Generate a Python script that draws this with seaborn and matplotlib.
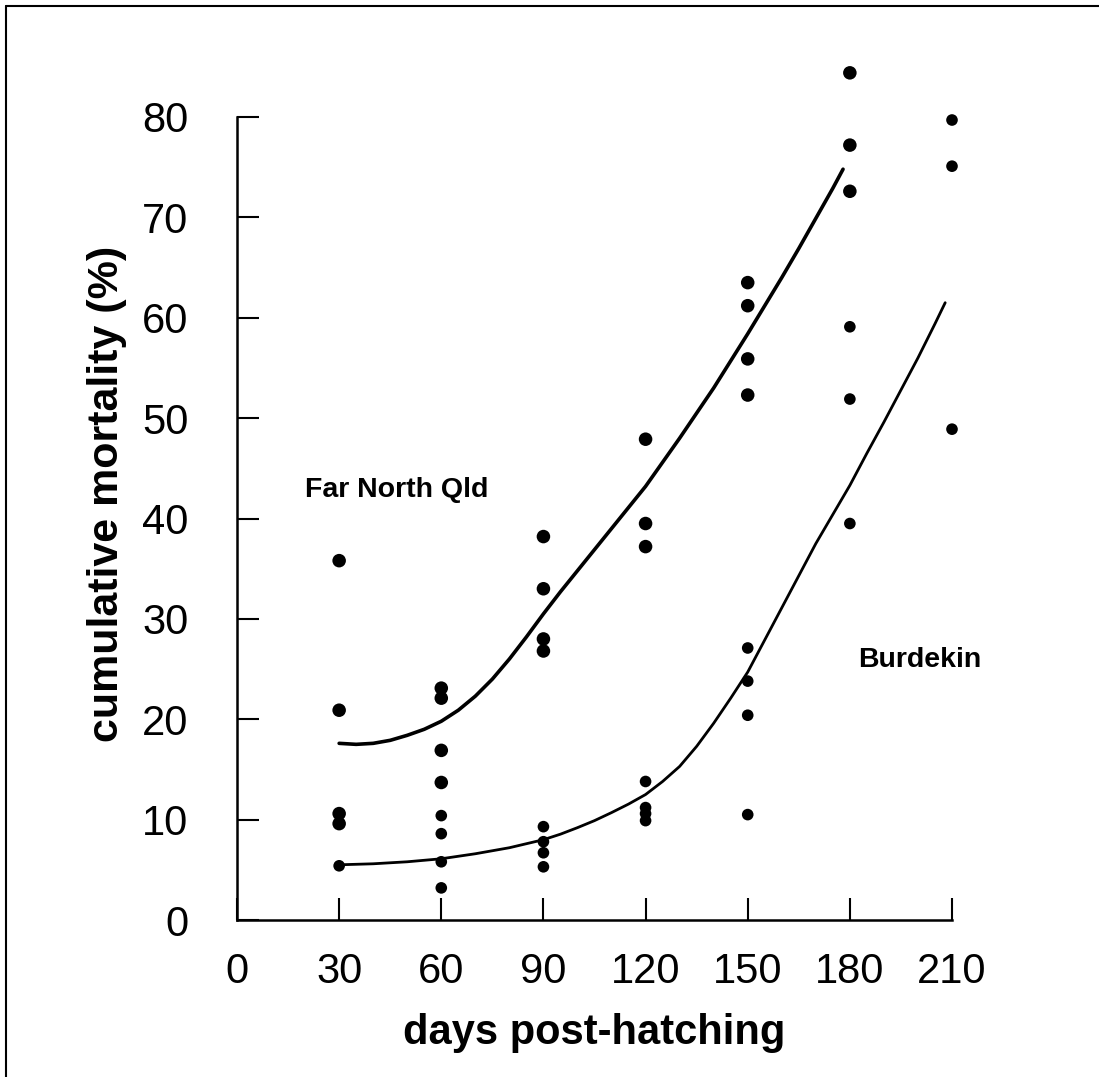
import matplotlib
matplotlib.use("Agg")
import matplotlib.pyplot as plt
import seaborn as sns
import pandas as pd
from matplotlib import font_manager
from matplotlib.lines import Line2D

# ---------------- data ----------------
fnq_days = [30, 30, 30, 30, 60, 60, 60, 60, 90, 90, 90, 90,
            120, 120, 120, 150, 150, 150, 150, 180, 180, 180]
fnq_mort = [35.8, 20.9, 10.6, 9.6, 23.1, 22.1, 16.9, 13.7, 38.2, 33.0, 28.0, 26.8,
            47.9, 39.5, 37.2, 63.5, 61.2, 55.9, 52.3, 84.4, 77.2, 72.6]

bur_days = [30, 60, 60, 60, 60, 90, 90, 90, 90, 120, 120, 120, 120,
            150, 150, 150, 150, 180, 180, 180, 210, 210, 210]
bur_mort = [5.4, 10.4, 8.6, 5.8, 3.2, 9.3, 7.8, 6.7, 5.3, 13.8, 11.2, 10.6, 9.9,
            27.1, 23.8, 20.4, 10.5, 59.1, 51.9, 39.5, 79.7, 75.1, 48.9]

# fitted curves, every 5 days
fnq_fit_days = [30, 35, 40, 45, 50, 55, 60, 65, 70, 75, 80, 85, 90, 95, 100, 105, 110,
                115, 120, 125, 130, 135, 140, 145, 150, 155, 160, 165, 170, 175, 178]
fnq_fit = [17.6, 17.5, 17.6, 17.9, 18.4, 19.0, 19.8, 20.9, 22.3, 24.0, 26.0, 28.2, 30.5,
           32.7, 34.8, 36.9, 39.0, 41.1, 43.2, 45.6, 48.0, 50.5, 53.0, 55.7, 58.4, 61.2,
           64.0, 66.9, 69.9, 72.9, 74.8]

bur_fit_days = [30, 35, 40, 45, 50, 55, 60, 65, 70, 75, 80, 85, 90, 95, 100, 105, 110,
                115, 120, 125, 130, 135, 140, 145, 150, 155, 160, 165, 170, 175, 180,
                185, 190, 195, 200, 205, 208]
bur_fit = [5.5, 5.55, 5.6, 5.7, 5.8, 5.95, 6.1, 6.35, 6.6, 6.9, 7.2, 7.6, 8.0, 8.55, 9.2,
           9.9, 10.7, 11.55, 12.5, 13.8, 15.3, 17.3, 19.6, 22.1, 24.7, 27.9, 31.1, 34.3,
           37.5, 40.4, 43.3, 46.5, 49.6, 52.8, 56.0, 59.4, 61.5]

x_ticks = [0, 30, 60, 90, 120, 150, 180, 210]
y_ticks = [0, 10, 20, 30, 40, 50, 60, 70, 80]
x_label = "days post-hatching"
y_label = "cumulative mortality (%)"
label_fnq = "Far North Qld"
label_bur = "Burdekin"

# ---------------- style ----------------
sns.set_style("ticks")
names = {f.name for f in font_manager.fontManager.ttflist}
narrow = "Liberation Sans Narrow" if "Liberation Sans Narrow" in names else "Liberation Sans"
plt.rcParams['font.family'] = ['Liberation Sans', 'DejaVu Sans']
plt.rcParams['text.color'] = 'black'
plt.rcParams['axes.labelcolor'] = 'black'

fig = plt.figure(figsize=(10.99, 10.77), dpi=100)
ax = fig.add_axes([237 / 1099, 1 - 920 / 1077, (952 - 237) / 1099, (920 - 117) / 1077])

df_fnq = pd.DataFrame({"days": fnq_days, "mort": fnq_mort})
df_bur = pd.DataFrame({"days": bur_days, "mort": bur_mort})
df_fnq_fit = pd.DataFrame({"days": fnq_fit_days, "mort": fnq_fit})
df_bur_fit = pd.DataFrame({"days": bur_fit_days, "mort": bur_fit})

sns.lineplot(data=df_fnq_fit, x="days", y="mort", color="black", lw=2.6, ax=ax)
sns.lineplot(data=df_bur_fit, x="days", y="mort", color="black", lw=2.0, ax=ax)
sns.scatterplot(data=df_fnq, x="days", y="mort", color="black", s=95, edgecolor="none", ax=ax)
sns.scatterplot(data=df_bur, x="days", y="mort", color="black", s=70, edgecolor="none", ax=ax)
for c in ax.collections:
    c.set_clip_on(False)

ax.set_xlim(0, 210)
ax.set_ylim(0, 80)
ax.set_xticks(x_ticks)
ax.set_yticks(y_ticks)
sns.despine(ax=ax)
for s in ["left", "bottom"]:
    ax.spines[s].set_linewidth(1.8)
    ax.spines[s].set_color("black")

ax.tick_params(axis="both", direction="in", length=16, width=1.5, color="black",
               labelsize=30, labelcolor="black")
ax.tick_params(axis="y", pad=35)
ax.tick_params(axis="x", pad=23)
for lab in ax.get_xticklabels() + ax.get_yticklabels():
    lab.set_family([narrow, 'DejaVu Sans'])

ax.set_xlabel(x_label, fontsize=30, fontweight="bold", color="black")
ax.set_ylabel(y_label, fontsize=31, fontweight="bold", color="black")
ax.xaxis.label.set_va("center")
ax.yaxis.label.set_va("center")
ax.xaxis.set_label_coords(0.5, (920 - 1033) / 803)
ax.yaxis.set_label_coords((107 - 237) / 715, (920 - 494) / 803)

ax.text(20, 42.8, label_fnq, fontsize=20.5, fontweight="bold", ha="left", va="center",
        color="black")
ax.text(182.4, 25.9, label_bur, fontsize=20.5, fontweight="bold", ha="left", va="center",
        color="black")

# outer frame (left and top edges visible in the reference)
fig.add_artist(Line2D([6 / 1099, 6 / 1099], [0, 1 - 6 / 1077], transform=fig.transFigure,
                      color="black", lw=1.5))
fig.add_artist(Line2D([6 / 1099, 1], [1 - 6 / 1077, 1 - 6 / 1077], transform=fig.transFigure,
                      color="black", lw=1.5))

fig.savefig("out.png", dpi=100, facecolor="white")
